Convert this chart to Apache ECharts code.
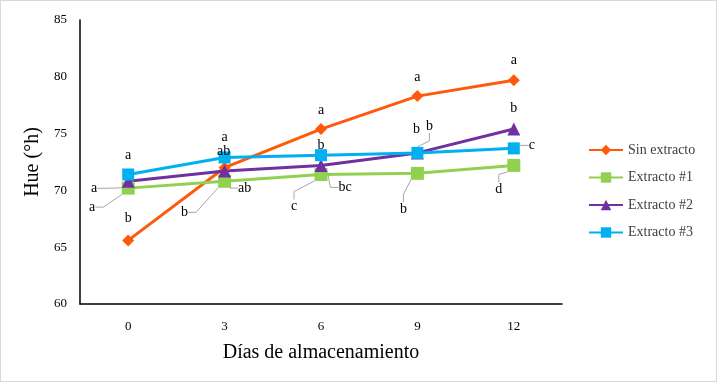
<!DOCTYPE html>
<html>
<head>
<meta charset="utf-8">
<script src="https://cdn.jsdelivr.net/npm/echarts@6/dist/echarts.min.js"></script>
<style>
html, body { margin: 0; padding: 0; background: #fff; }
#chart { width: 715px; height: 380px; border: 1px solid #d9d9d9; }
</style>
</head>
<body>
<div id="chart"></div>
<script>
// categories (días)
var dias = ['0', '3', '6', '9', '12'];
var yTicks = [60, 65, 70, 75, 80, 85];

// Hue values
var sinExtracto = [65.6, 72.0, 75.4, 78.3, 79.7];
var extracto1 = [70.2, 70.8, 71.4, 71.5, 72.2];
var extracto2 = [70.8, 71.7, 72.2, 73.3, 75.4];
var extracto3 = [71.4, 72.9, 73.1, 73.3, 73.7];

// letras de significancia
var letrasSin = ['b', 'a', 'a', 'a', 'a'];
var letras1 = ['a', 'b', 'c', 'b', 'd'];
var letras2 = ['a', 'ab', 'bc', 'b', 'b'];
var letras3 = ['a', 'ab', 'b', 'b', 'c'];

// desplazamiento de las letras (dx, dy) y si llevan linea guia
var shift = {
    sin: [[0, -22], [0, -30], [0, -19], [0, -19], [0, -20]],
    e1: [[-36, 19], [-40, 31], [-27, 32], [-14, 36], [-15, 24]],
    e2: [[-34, 7], [20, 17], [24, 22], [12, -27], [0, -21]],
    e3: [[0, -19], [-1, -6], [0, -10], [-1, -24], [18, -3]]
};
var guide = {
    sin: [0, 0, 0, 0, 0],
    e1: [1, 1, 1, 1, 1],
    e2: [1, 1, 1, 1, 0],
    e3: [0, 0, 0, 0, 1]
};

var font = '"Liberation Serif", "Times New Roman", serif';

function makeSeries(name, values, letras, key, color, symbol, size) {
    return {
        name: name,
        type: 'line',
        data: values.map(function(v, i) {
            return {
                value: v,
                labelLine: { show: !!guide[key][i] }
            };
        }),
        symbol: symbol,
        symbolSize: size,
        lineStyle: { color: color, width: 3 },
        itemStyle: { color: color },
        label: {
            show: true,
            position: 'inside',
            fontFamily: font,
            fontSize: 14,
            color: '#000',
            formatter: function(p) { return letras[p.dataIndex]; }
        },
        labelLine: {
            show: false,
            length2: 8,
            lineStyle: { color: '#a6a6a6', width: 1 }
        },
        labelLayout: function(p) {
            var s = shift[key][p.dataIndex];
            return { dx: s[0], dy: s[1] };
        },
        emphasis: { disabled: true },
        animation: false
    };
}

var chart = echarts.init(document.getElementById('chart'));
chart.setOption({
    backgroundColor: '#fff',
    animation: false,
    grid: { left: 79, right: 154, top: 19, bottom: 77 },
    legend: {
        orient: 'vertical',
        left: 582,
        top: 137,
        itemWidth: 34,
        itemHeight: 13,
        itemGap: 13.5,
        textStyle: { fontFamily: font, fontSize: 14, color: '#404040' },
        data: ['Sin extracto', 'Extracto #1', 'Extracto #2', 'Extracto #3']
    },
    xAxis: {
        type: 'category',
        data: dias,
        boundaryGap: true,
        name: 'Días de almacenamiento',
        nameLocation: 'middle',
        nameGap: 39,
        nameTextStyle: { fontFamily: font, fontSize: 20, color: '#000' },
        axisLine: { lineStyle: { color: '#000', width: 1.5 } },
        axisTick: { show: false },
        axisLabel: { fontFamily: font, fontSize: 13, color: '#000', margin: 16 }
    },
    yAxis: {
        type: 'value',
        min: yTicks[0],
        max: yTicks[yTicks.length - 1],
        interval: 5,
        name: 'Hue (°h)',
        nameLocation: 'middle',
        nameGap: 35,
        nameTextStyle: { fontFamily: font, fontSize: 20, color: '#000' },
        axisLine: { show: true, lineStyle: { color: '#000', width: 1.5 } },
        axisTick: { show: false },
        splitLine: { show: false },
        axisLabel: { fontFamily: font, fontSize: 13, color: '#000', margin: 13 }
    },
    series: [
        makeSeries('Sin extracto', sinExtracto, letrasSin, 'sin', '#FF5A0A', 'diamond', 12),
        makeSeries('Extracto #1', extracto1, letras1, 'e1', '#92D050', 'rect', 13),
        makeSeries('Extracto #2', extracto2, letras2, 'e2', '#7030A0', 'triangle', 13),
        makeSeries('Extracto #3', extracto3, letras3, 'e3', '#00B0F0', 'rect', 12)
    ]
});
</script>
</body>
</html>
